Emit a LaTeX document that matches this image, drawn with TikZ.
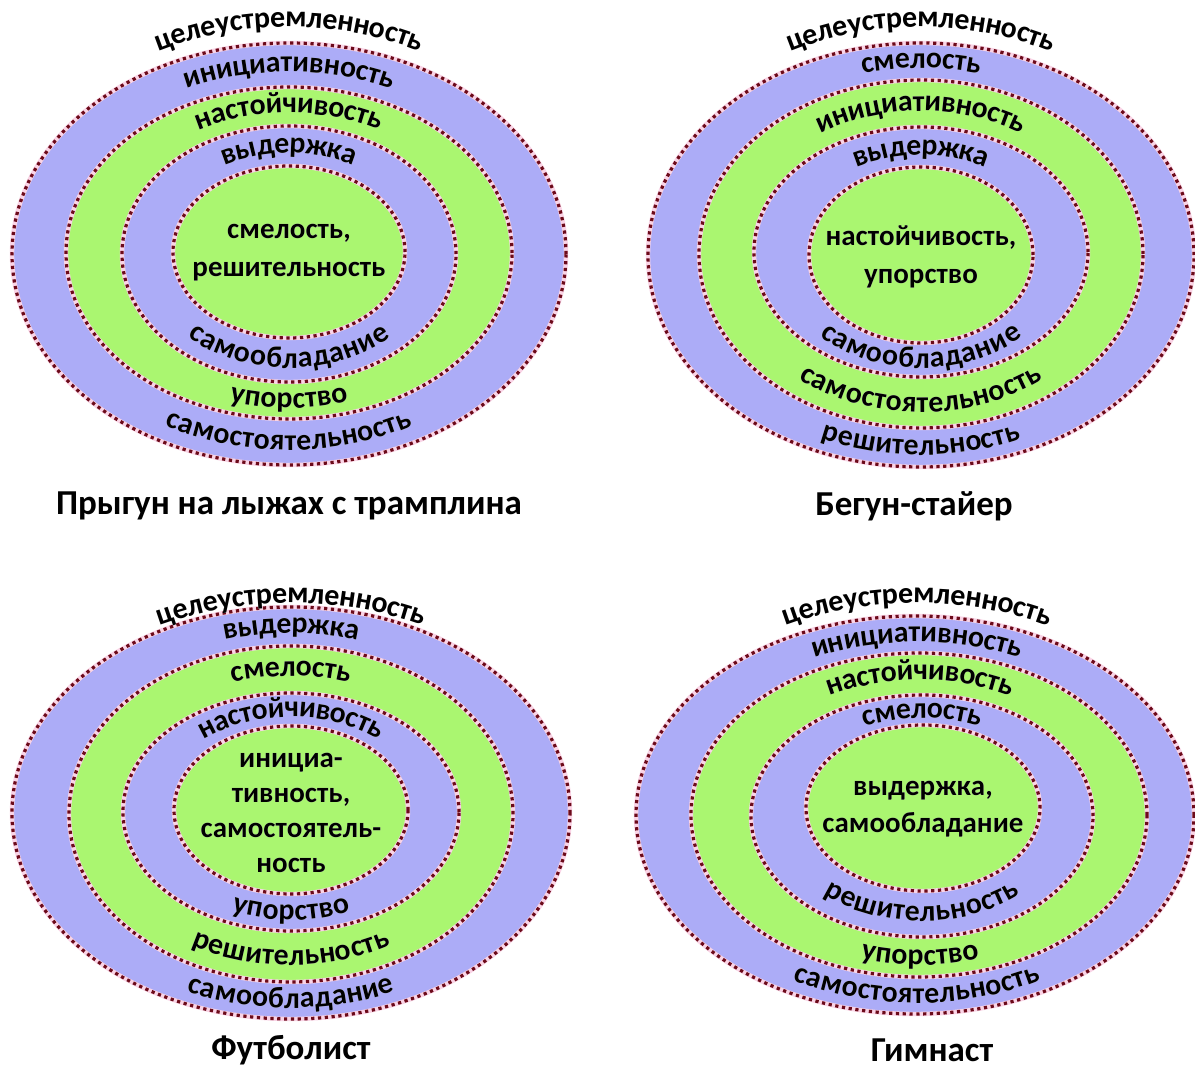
\documentclass[tikz,border=0pt]{standalone}
\usepackage{fontspec}
\setmainfont{Carlito}
\usepackage[copies]{contour}
\usetikzlibrary{decorations.text}
\contourlength{2.3pt}
\contournumber{24}
\definecolor{ringblue}{RGB}{172,172,247}
\definecolor{ringgreen}{RGB}{170,246,112}
\definecolor{dotred}{RGB}{108,10,26}
\definecolor{dotglow}{RGB}{250,212,230}
\tikzset{
  rimglow/.style={draw=dotglow, line width=4.4pt},
  rimdots/.style={draw=dotred, line width=3.2pt, dash pattern=on 3.2pt off 3.6pt},
  centertext/.style={font=\fontsize{29}{38}\selectfont\bfseries, align=center},
  paneltitle/.style={font=\fontsize{35}{40}\selectfont\bfseries},
}
\def\lbl{\fontsize{30}{32}\selectfont\bfseries}
\def\core{\fontsize{29}{32}\selectfont\bfseries}
\def\halo{\lbl\color{white}\contour{white}}
\def\corehalo{\core\color{white}\contour{white}}
% filled ellipse with a dotted rim
\def\zone(#1,#2)(#3:#4)[#5]{%
  \fill[#5] (#1,#2) ellipse [x radius=#3, y radius=#4];
  \draw[rimglow] (#1,#2) ellipse [x radius=#3, y radius=#4];
  \draw[rimdots] (#1,#2) ellipse [x radius=#3, y radius=#4];
}
% word along the upper half of an ellipse
\def\upperlabel(#1,#2)(#3:#4)#5{%
  \path[decorate, decoration={text along path, text align=center, raise=-7pt, text={|\halo|#5}}]
    ([shift={(165:#3 and #4)}]#1,#2) arc[start angle=165, end angle=15, x radius=#3, y radius=#4];
  \path[decorate, decoration={text along path, text align=center, raise=-7pt, text={|\lbl|#5}}]
    ([shift={(165:#3 and #4)}]#1,#2) arc[start angle=165, end angle=15, x radius=#3, y radius=#4];
}
% word along the lower half of an ellipse
\def\lowerlabel(#1,#2)(#3:#4)#5{%
  \path[decorate, decoration={text along path, text align=center, raise=-7pt, text={|\halo|#5}}]
    ([shift={(195:#3 and #4)}]#1,#2) arc[start angle=195, end angle=345, x radius=#3, y radius=#4];
  \path[decorate, decoration={text along path, text align=center, raise=-7pt, text={|\lbl|#5}}]
    ([shift={(195:#3 and #4)}]#1,#2) arc[start angle=195, end angle=345, x radius=#3, y radius=#4];
}
% one straight line of centre text
\def\coreline(#1,#2)#3{%
  \path[decorate, decoration={text along path, text align=center, raise=-7pt, text={|\corehalo|#3}}]
    (#1-150,#2) -- (#1+150,#2);
  \path[decorate, decoration={text along path, text align=center, raise=-7pt, text={|\core|#3}}]
    (#1-150,#2) -- (#1+150,#2);
}

\begin{document}
\begin{tikzpicture}[x=1pt, y=1pt]
  %%%%% START %%%%%
  \fill[white] (0,0) rectangle (1195,1072);
  \useasboundingbox (0,0) rectangle (1195,1072);

  %% ski jumper
  \zone(289,818)(277:211)[ringblue]
  \zone(289,819)(223:166)[ringgreen]
  \zone(289,818)(167:128)[ringblue]
  \zone(289,820)(116:86)[ringgreen]
  \upperlabel(289,819)(297:233){целеустремленность}
  \upperlabel(289,819)(250:188){инициативность}
  \lowerlabel(289,819)(250:190){самостоятельность}
  \upperlabel(289,819)(195:147){настойчивость}
  \lowerlabel(289,819)(195:148){упорство}
  \upperlabel(289,819)(141:107){выдержка}
  \lowerlabel(289,819)(141:108){самообладание}
  \coreline(289,840){смелость,}
  \coreline(289,802){решительность}
  \node[paneltitle] (jumptitle) at (289,566) {Прыгун на лыжах с трамплина};

  %% stayer
  \zone(921,817)(273:212)[ringblue]
  \zone(921,818)(222:174)[ringgreen]
  \zone(921,820)(167:125)[ringblue]
  \zone(921,817)(112:88)[ringgreen]
  \upperlabel(921,818)(293:234){целеустремленность}
  \upperlabel(921,818)(247:193){смелость}
  \lowerlabel(921,818)(247:194){решительность}
  \upperlabel(921,818)(194:150){инициативность}
  \lowerlabel(921,818)(194:151){самостоятельность}
  \upperlabel(921,818)(140:106){выдержка}
  \lowerlabel(921,818)(140:107){самообладание}
  \coreline(921,833){настойчивость,}
  \coreline(921,795){упорство}
  \node[paneltitle] (runtitle) at (914,566) {Бегун-стайер};

  %% football player
  \zone(291,259)(279:206)[ringblue]
  \zone(291,258)(222:168)[ringgreen]
  \zone(291,260)(168:119)[ringblue]
  \zone(291,262)(117:84)[ringgreen]
  \upperlabel(291,259)(299:217){целеустремленность}
  \upperlabel(291,259)(250:187){выдержка}
  \lowerlabel(291,259)(250:188){самообладание}
  \upperlabel(291,259)(195:144){смелость}
  \lowerlabel(291,259)(195:145){решительность}
  \upperlabel(291,261)(142:101){настойчивость}
  \lowerlabel(291,261)(142:102){упорство}
  \coreline(291,311){инициа-}
  \coreline(291,276){тивность,}
  \coreline(291,241){самостоятель-}
  \coreline(291,206){ность}
  \node[paneltitle] (balltitle) at (291,22) {Футболист};

  %% gymnast
  \zone(915,257)(279:199)[ringblue]
  \zone(919,257)(228:162)[ringgreen]
  \zone(922,256)(171:121)[ringblue]
  \zone(923,264)(117:83)[ringgreen]
  \upperlabel(917,257)(297:219){целеустремленность}
  \upperlabel(917,257)(253:180){инициативность}
  \lowerlabel(917,257)(253:181){самостоятельность}
  \upperlabel(920,257)(199:142){настойчивость}
  \lowerlabel(920,257)(199:143){упорство}
  \upperlabel(922,260)(144:101){смелость}
  \lowerlabel(922,260)(144:102){решительность}
  \coreline(923,283){выдержка,}
  \coreline(923,246){самообладание}
  \node[paneltitle] (gymtitle) at (932,22) {Гимнаст};
  %%%%% END %%%%%
\end{tikzpicture}
\end{document}
